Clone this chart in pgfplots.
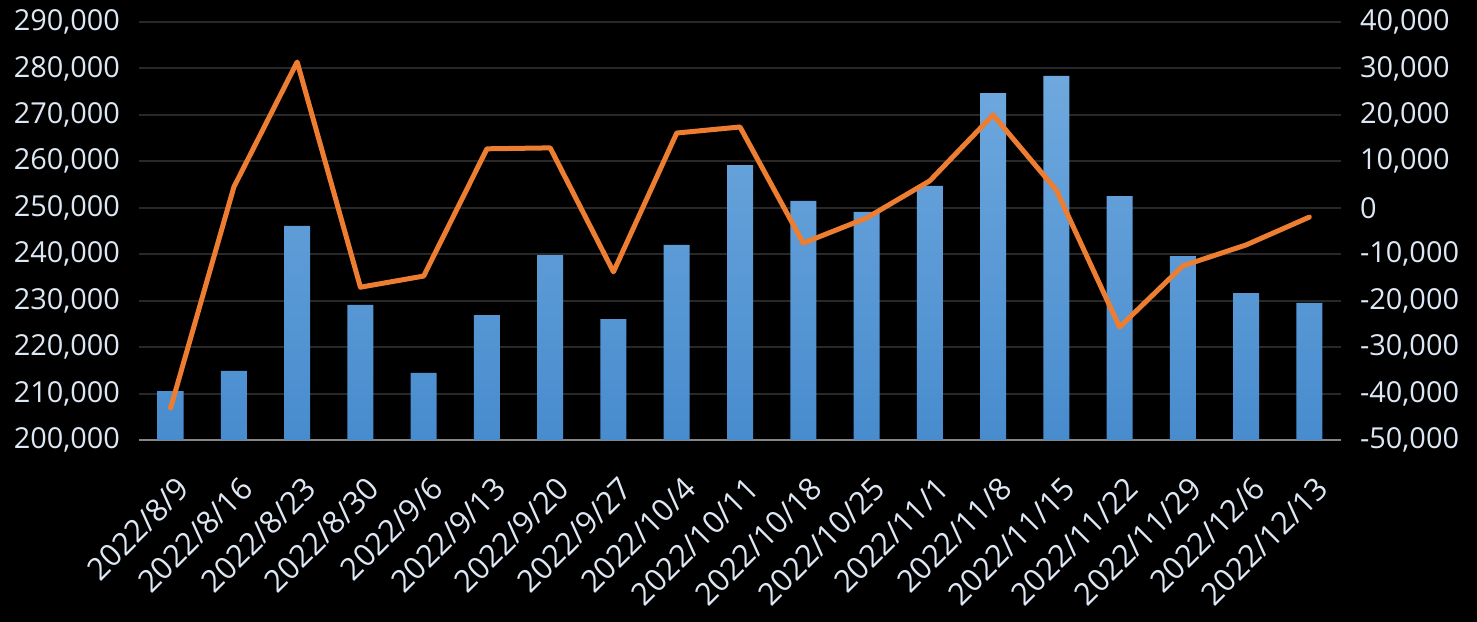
\documentclass[border=0pt]{standalone}
\usepackage{pgfplots}
\pgfplotsset{compat=1.18}
\usepackage{fontspec}
\setmainfont{Open Sans}
\definecolor{barTop}{RGB}{110,168,222}
\definecolor{barBot}{RGB}{72,140,206}
\definecolor{lineOr}{RGB}{237,125,49}
\definecolor{txt}{RGB}{222,232,244}
\definecolor{gridc}{RGB}{40,40,40}
\definecolor{axc}{RGB}{134,134,134}

\pgfplotsset{
  base/.style={
    scale only axis, width=601bp, height=209bp,
    xmin=-0.5, xmax=18.5,
    /pgf/number format/assume math mode=true,
    /pgf/number format/.cd, fixed, 1000 sep={,}, /pgfplots/.cd,
    scaled y ticks=false,
    ticklabel style={font=\fontsize{14.5}{17}\selectfont, text=txt},
    ytick style={draw=none},
  }
}

\begin{document}
\begin{tikzpicture}
\fill[black] (-69.5bp,-91bp) rectangle (669bp,220bp);
\path[use as bounding box] (-69.5bp,-91bp) rectangle (669bp,220bp);

\begin{axis}[base,
  axis y line*=left, axis x line*=bottom,
  y axis line style={draw=none},
  x axis line style={draw=axc, line width=1bp},
  ymin=200000, ymax=290000, ytick={200000,210000,...,290000},
  yticklabel style={xshift=-6bp},
  ymajorgrids, grid style={draw=gridc, line width=1bp},
  xtick={0,...,18}, major x tick style={draw=none},
  xticklabels={2022/8/9,2022/8/16,2022/8/23,2022/8/30,2022/9/6,2022/9/13,2022/9/20,2022/9/27,2022/10/4,2022/10/11,2022/10/18,2022/10/25,2022/11/1,2022/11/8,2022/11/15,2022/11/22,2022/11/29,2022/12/6,2022/12/13},
  xticklabel style={font=\fontsize{15.5}{18}\selectfont, xshift=2.5bp, yshift=-16bp, rotate=45, anchor=north east, inner sep=1bp},
  extra x ticks={-0.5,0.5,...,18.5}, extra x tick labels={},
  extra x tick style={grid=none, tick align=outside, major tick length=5bp,
    major tick style={draw=axc, line width=1bp}},
]
\addplot[ybar, bar width=13bp, draw=none, top color=barTop, bottom color=barBot]
  coordinates {(0,210550) (1,214860) (2,246080) (3,229070) (4,214430) (5,226900)
  (6,239800) (7,226050) (8,242000) (9,259200) (10,251500) (11,249100) (12,254700)
  (13,274700) (14,278400) (15,252500) (16,239600) (17,231650) (18,229500)};
\end{axis}

\begin{axis}[base,
  axis y line*=right, axis x line=none,
  y axis line style={draw=none},
  ymin=-50000, ymax=40000, ytick={-50000,-40000,...,40000},
  yticklabel style={xshift=6bp},
]
\addplot[lineOr, line width=2.5bp, line join=round, line cap=round, mark=none]
  coordinates {(0,-43100) (1,4480) (2,31400) (3,-17100) (4,-14700) (5,12700)
  (6,12900) (7,-13800) (8,16100) (9,17400) (10,-7600) (11,-2200) (12,5800)
  (13,20000) (14,3800) (15,-25700) (16,-12500) (17,-8000) (18,-2000)};
\end{axis}
\end{tikzpicture}
\end{document}
